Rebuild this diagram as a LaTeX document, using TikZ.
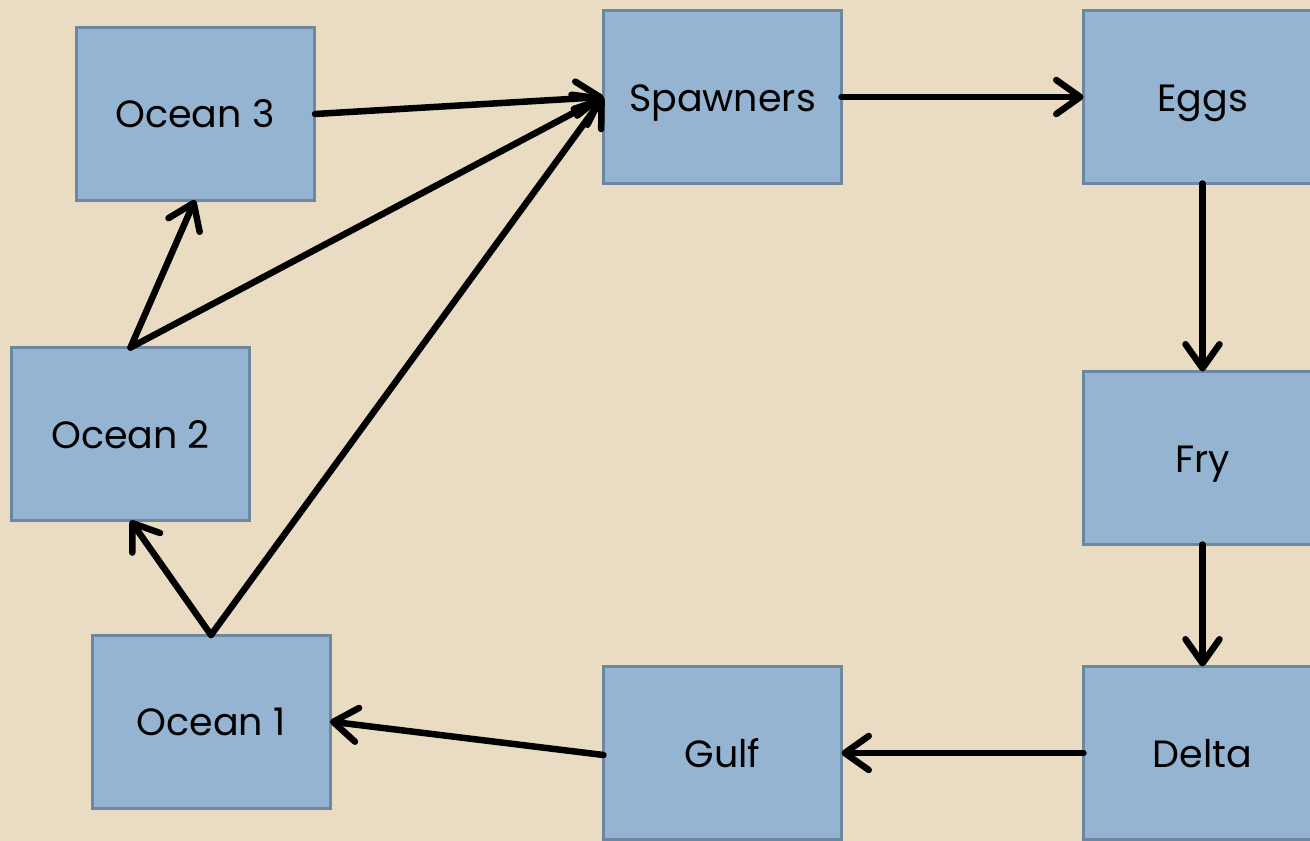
\documentclass[tikz,border=0pt]{standalone}
\usepackage{fontspec}
\setmainfont{Poppins}
\usetikzlibrary{arrows.meta}
\definecolor{paper}{RGB}{234,220,195}
\definecolor{boxfill}{RGB}{148,180,210}
\definecolor{boxline}{RGB}{108,136,160}
\begin{document}
\begin{tikzpicture}[x=1pt,y=-1pt,
  stage/.style={draw=boxline, line width=3pt, fill=boxfill, minimum width=238pt,
    minimum height=173pt, inner sep=0pt, outer sep=0pt,
    text height=28pt, text depth=0pt,
    font=\fontsize{38}{44}\selectfont},
  flow/.style={line width=6.5pt, line cap=round, line join=round,
    -{Straight Barb[length=24pt, width=34pt, line cap=round, line join=round]}}]
  % background
  \fill[paper] (0,0) rectangle (1310,841);
  \useasboundingbox (0,0) rectangle (1310,841);
  % stages of the life cycle
  \node[stage] (o3) at (195,113.5) {Ocean 3};
  \node[stage] (sp) at (722.5,97) {Spawners};
  \node[stage] (eg) at (1202.5,97) {Eggs};
  \node[stage] (o2) at (130.5,434) {Ocean 2};
  \node[stage] (fr) at (1202.5,458) {Fry};
  \node[stage] (o1) at (211,721.5) {Ocean 1};
  \node[stage] (gu) at (722.5,753) {Gulf};
  \node[stage] (de) at (1202.5,753) {Delta};
  % transitions
  \draw[flow] (315,114) -- (sp.west);
  \draw[flow] (o2.north) -- (o3.south);
  \draw[flow] (o2.north) -- (sp.west);
  \draw[flow] (o1.north) -- (sp.west);
  \draw[flow] (o1.north) -- (o2.south);
  \draw[flow] (sp.east) -- (eg.west);
  \draw[flow] (eg.south) -- (fr.north);
  \draw[flow] (fr.south) -- (de.north);
  \draw[flow] (de.west) -- (gu.east);
  \draw[flow] (gu.west |- 0,755) -- (o1.east);
\end{tikzpicture}
\end{document}
